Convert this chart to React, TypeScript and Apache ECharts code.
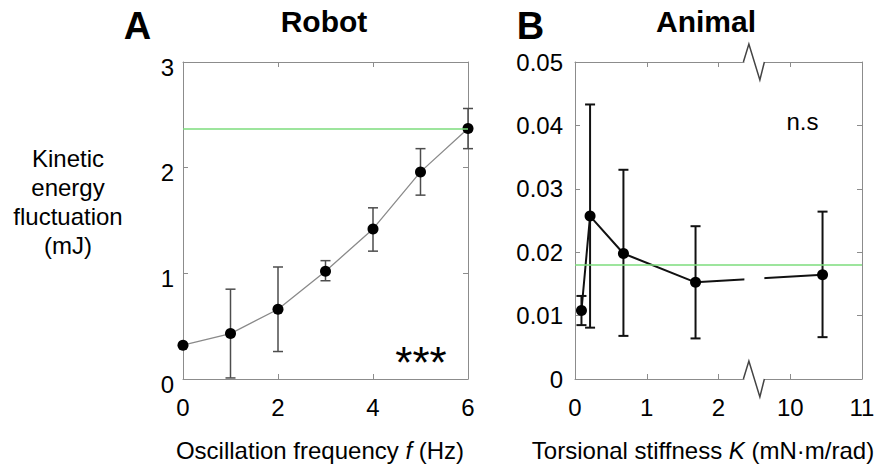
import React, { useEffect, useRef } from "react";
import * as echarts from "echarts";

// ---------- Panel A: Robot ----------
const robotFreq = [0, 1, 2, 3, 4, 5, 6];
const robotMean = [0.32, 0.43, 0.66, 1.02, 1.42, 1.96, 2.37];
const robotLow = [0.32, 0.01, 0.26, 0.93, 1.21, 1.74, 2.18];
const robotHigh = [0.32, 0.85, 1.06, 1.12, 1.62, 2.18, 2.56];
const robotReference = 2.37;

// ---------- Panel B: Animal ----------
const animalK = [0.09, 0.21, 0.675, 1.68, 10.45];
const animalMean = [0.0108, 0.0257, 0.0198, 0.01525, 0.01645];
const animalLow = [0.0085, 0.0081, 0.0068, 0.0064, 0.0066];
const animalHigh = [0.0131, 0.0433, 0.033, 0.0241, 0.0264];
const animalReference = 0.018;
const animalXTickLabels = ["0", "1", "2", "10", "11"];
const BREAK_START = 2.5;
const BREAK_END = 9.5;

const toBroken = (k: number) => (k <= BREAK_START ? k : k - (BREAK_END - BREAK_START));

const FONT = "'Liberation Sans', Arial, Helvetica, sans-serif";
const FRAME = "#8c8c8c";
const GREEN = "#7ddc7d";

function errorBars(axisIndex: number, rows: number[][], color: string, width: number, cap: number) {
  return {
    type: "custom",
    xAxisIndex: axisIndex,
    yAxisIndex: axisIndex,
    data: rows,
    encode: { x: 0, y: [1, 2] },
    silent: true,
    z: 2,
    clip: false,
    renderItem: (_params: any, api: any) => {
      const x = api.value(0);
      const lo = api.coord([x, api.value(1)]);
      const hi = api.coord([x, api.value(2)]);
      const style = { stroke: color, lineWidth: width, fill: "none" };
      return {
        type: "group",
        children: [
          { type: "line", shape: { x1: lo[0], y1: lo[1], x2: hi[0], y2: hi[1] }, style },
          { type: "line", shape: { x1: lo[0] - cap, y1: lo[1], x2: lo[0] + cap, y2: lo[1] }, style },
          { type: "line", shape: { x1: hi[0] - cap, y1: hi[1], x2: hi[0] + cap, y2: hi[1] }, style },
        ],
      };
    },
  };
}

function frameAxis(gridIndex: number, position: string, labelled: boolean, extra: any) {
  return {
    type: "value",
    gridIndex,
    position,
    axisLine: { show: true, onZero: false, lineStyle: { color: FRAME, width: 1 } },
    axisTick: { show: true, inside: true, length: 5, lineStyle: { color: FRAME, width: 1 } },
    splitLine: { show: false },
    axisLabel: labelled
      ? { show: true, color: "#000", fontSize: 24, fontFamily: FONT }
      : { show: false },
    ...extra,
  };
}

function refLine(value: number) {
  return {
    silent: true,
    symbol: ["none", "none"],
    precision: 6,
    label: { show: false },
    lineStyle: { color: GREEN, width: 1.5, type: "solid" },
    data: [{ yAxis: value }],
  };
}

export default function App() {
  const ref = useRef<HTMLDivElement>(null);

  useEffect(() => {
    if (!ref.current) return;
    const chart = echarts.init(ref.current, null, { renderer: "svg" });

    const robotLine = robotFreq.map((f, i) => [f, robotMean[i]]);
    const robotErr = robotFreq.map((f, i) => [f, robotLow[i], robotHigh[i]]);
    const animalLine = animalK.map((k, i) => [toBroken(k), animalMean[i]]);
    const animalErr = animalK.map((k, i) => [toBroken(k), animalLow[i], animalHigh[i]]);

    const xA = { min: 0, max: 6, interval: 2 };
    const yA = { min: 0, max: 3, interval: 1 };
    const xB = { min: 0, max: 4, interval: 1 };
    const yB = { min: 0, max: 0.05, interval: 0.01 };

    chart.setOption({
      animation: false,
      grid: [
        { left: 183, top: 62, width: 285, height: 317 },
        { left: 575, top: 62, width: 287, height: 317 },
      ],
      xAxis: [
        frameAxis(0, "bottom", true, { ...xA, axisLabel: { color: "#000", fontSize: 24, fontFamily: FONT, margin: 16 } }),
        frameAxis(0, "top", false, xA),
        frameAxis(1, "bottom", true, {
          ...xB,
          axisLabel: {
            color: "#000",
            fontSize: 24,
            fontFamily: FONT,
            margin: 16,
            formatter: (v: number) => animalXTickLabels[Math.round(v)] ?? "",
          },
        }),
        frameAxis(1, "top", false, xB),
      ],
      yAxis: [
        frameAxis(0, "left", true, {
          ...yA,
          axisLabel: {
            color: "#000",
            fontSize: 24,
            fontFamily: FONT,
            margin: 9,
            formatter: (v: number) => `{v|${v}}`,
            rich: { v: { color: "#000", fontSize: 24, fontFamily: FONT, padding: [10, 0, 0, 0] } },
          },
        }),
        frameAxis(0, "right", false, yA),
        frameAxis(1, "left", true, {
          ...yB,
          axisLabel: {
            color: "#000",
            fontSize: 24,
            fontFamily: FONT,
            margin: 12,
            formatter: (v: number) => (Math.abs(v) < 1e-9 ? "0" : v.toFixed(2)),
          },
        }),
        frameAxis(1, "right", false, yB),
      ],
      series: [
        errorBars(0, robotErr, "#4d4d4d", 1.5, 5),
        {
          type: "line",
          xAxisIndex: 0,
          yAxisIndex: 0,
          data: robotLine,
          symbol: "circle",
          symbolSize: 11,
          itemStyle: { color: "#000" },
          lineStyle: { color: "#8a8a8a", width: 1.3 },
          z: 3,
          silent: true,
          markLine: refLine(robotReference),
        },
        errorBars(2, animalErr, "#111", 2, 5),
        {
          type: "line",
          xAxisIndex: 2,
          yAxisIndex: 2,
          data: animalLine,
          symbol: "circle",
          symbolSize: 11,
          itemStyle: { color: "#000" },
          lineStyle: { color: "#111", width: 2 },
          z: 3,
          silent: true,
          markLine: refLine(animalReference),
        },
      ],
    });

    // Axis break decorations computed through the chart's own scales
    const cx = chart.convertToPixel({ xAxisIndex: 2 } as any, BREAK_START) as number;
    const yTop = chart.convertToPixel({ yAxisIndex: 2 } as any, 0.05) as number;
    const yBot = chart.convertToPixel({ yAxisIndex: 2 } as any, 0) as number;
    const p4 = chart.convertToPixel({ gridIndex: 1 } as any, animalLine[3]) as number[];
    const p5 = chart.convertToPixel({ gridIndex: 1 } as any, animalLine[4]) as number[];
    const t = (cx - p4[0]) / (p5[0] - p4[0]);
    const yLine = p4[1] + t * (p5[1] - p4[1]);

    const zig = (Y: number) => [
      { type: "rect", z: 100, shape: { x: cx - 10, y: Y - 2, width: 20, height: 4 }, style: { fill: "#fff" } },
      {
        type: "polyline",
        z: 101,
        shape: { points: [[cx - 11, Y], [cx - 5.5, Y - 18], [cx + 5.5, Y + 18], [cx + 10, Y]] },
        style: { stroke: "#444", lineWidth: 1.5, fill: "none" },
      },
    ];

    const txt = (x: number, y: number, text: string, fontSize: number, weight: string, extra: any = {}) => ({
      type: "text",
      x,
      y,
      z: 110,
      style: {
        text,
        fill: "#000",
        font: `${weight} ${fontSize}px ${FONT}`,
        fontSize,
        fontWeight: weight,
        fontFamily: FONT,
        align: "center",
        verticalAlign: "middle",
        ...extra,
      },
    });

    chart.setOption({
      graphic: [
        { type: "rect", z: 100, shape: { x: cx - 10, y: yLine - 6, width: 20, height: 12 }, style: { fill: "#fff" } },
        ...zig(yTop),
        ...zig(yBot),
        txt(137.5, 26, "A", 38, "bold"),
        txt(324, 21, "Robot", 30, "bold"),
        txt(530.5, 26, "B", 38, "bold"),
        txt(706, 21, "Animal", 30, "bold"),
        txt(68, 202, "Kinetic\nenergy\nfluctuation\n(mJ)", 24, "normal", { lineHeight: 29 }),
        txt(320, 450, "Oscillation frequency {i|f} (Hz)", 24, "normal", {
          rich: { i: { fontStyle: "italic", fontSize: 24, fontFamily: FONT, fill: "#000" } },
        }),
        txt(703, 450, "Torsional stiffness {i|K} (mN·m/rad)", 24, "normal", {
          rich: { i: { fontStyle: "italic", fontSize: 24, fontFamily: FONT, fill: "#000" } },
        }),
        txt(421, 362, "***", 44, "normal"),
        txt(802.5, 121.5, "n.s", 24, "normal"),
      ],
    });

    return () => chart.dispose();
  }, []);

  return (
    <div
      ref={ref}
      style={{ position: "fixed", left: 0, top: 0, width: 888, height: 469, background: "#fff" }}
    />
  );
}
